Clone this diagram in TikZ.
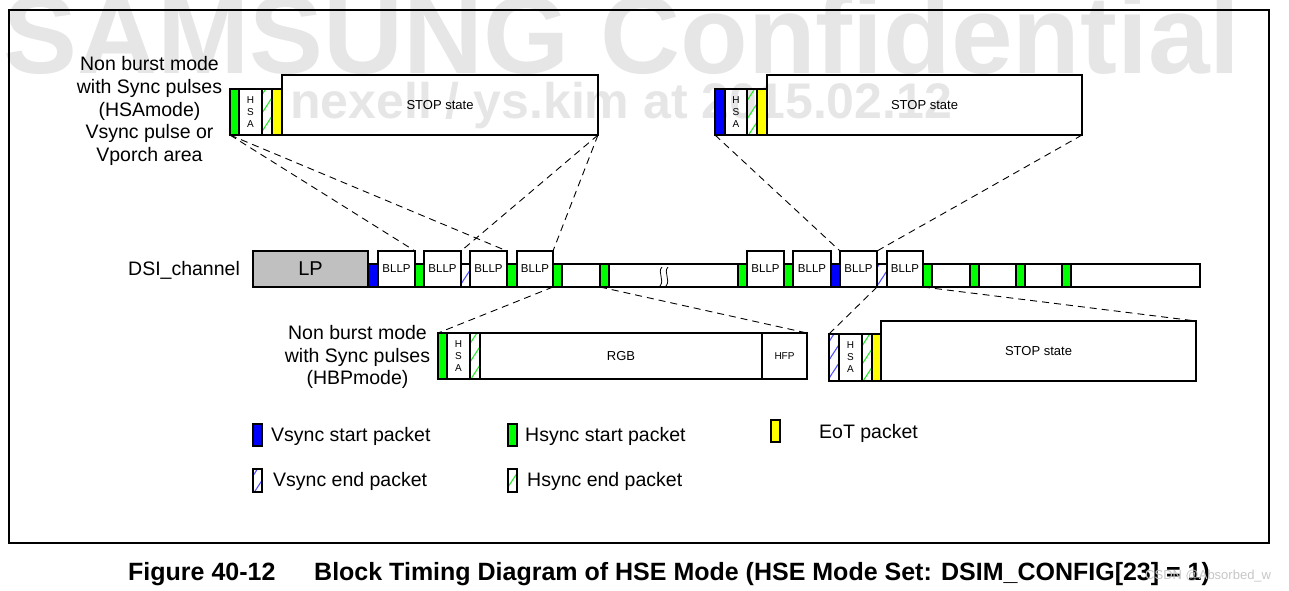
\documentclass[tikz,border=0pt]{standalone}
\usepackage{fontspec}
\setmainfont{Liberation Sans}
\usepackage{graphicx}
\usetikzlibrary{patterns.meta}
\definecolor{pg}{RGB}{0,255,0}
\definecolor{pb}{RGB}{0,0,255}
\definecolor{py}{RGB}{255,255,0}
\definecolor{lpg}{RGB}{192,192,192}
\definecolor{wm}{RGB}{230,230,230}
\definecolor{hg}{RGB}{40,235,40}
\definecolor{hb}{RGB}{80,80,255}
\tikzset{
 blk/.style={draw=black, line width=1.2pt, inner sep=0pt, outer sep=0pt, anchor=north west},
 gs/.style={blk, fill=pg},
 vs/.style={blk, fill=pb},
 eot/.style={blk, fill=py},
 gh/.style={blk, pattern={Lines[angle=57,distance=10pt,line width=1.1pt]}, pattern color=hg},
 vh/.style={blk, pattern={Lines[angle=57,distance=10pt,line width=1.1pt]}, pattern color=hb},
 lpbox/.style={blk, fill=lpg, font=\fontsize{20}{22}\selectfont},
 bllp/.style={blk, font=\fontsize{11.5}{13}\selectfont},
 hsa/.style={blk, align=center, font=\fontsize{10}{12}\selectfont},
 stopbox/.style={blk, font=\fontsize{13}{15}\selectfont},
 lbl/.style={font=\fontsize{19.5}{22.8}\selectfont, align=center, inner sep=0pt},
 leg/.style={font=\fontsize{19.5}{22.8}\selectfont, inner sep=0pt, anchor=base west},
 conn/.style={line width=0.9pt, dash pattern=on 7pt off 5pt},
}
\newcommand\bx[7]{\pgfmathsetmacro\bxw{#4-#2}\pgfmathsetmacro\bxh{#5-#3}%
 \node[#6,minimum width=\bxw pt,minimum height=\bxh pt] (#1) at (#2,#3) {#7};}
\begin{document}
\begin{tikzpicture}[x=1pt,y=-1pt]
\useasboundingbox (0,0) rectangle (1289,590);
% watermarks
\begin{scope}
\clip (0,0) rectangle (1289,590);
\node[anchor=base west, inner sep=0pt, text=wm] (wm1) at (3,73) {\resizebox{1237pt}{!}{\bfseries SAMSUNG Confidential}};
\node[anchor=base west, inner sep=0pt, text=wm] (wm2) at (290,118) {\resizebox{662pt}{!}{\bfseries nexell / ys.kim at 2015.02.12}};
\end{scope}
% frame
\draw[line width=1.5pt] (9,10) rectangle (1269,543);
% labels
\node[lbl] (lab1) at (149.5,111) {Non burst mode\\with Sync pulses\\(HSAmode)\\Vsync pulse or\\Vporch area};
\node[lbl] (lab2) at (357.5,357) {Non burst mode\\with Sync pulses\\(HBPmode)};
\node[leg] (lab3) at (128,275) {DSI\_channel};
% top-left group
\bx{tlg}{230}{89}{239}{135}{gs}{}
\bx{tlhsa}{239}{89}{262}{135}{hsa}{H\\S\\A}
\bx{tlh}{262}{89}{272}{135}{gh}{}
\bx{tle}{272}{89}{282}{135}{eot}{}
\bx{tlstop}{282}{75}{598}{135}{stopbox}{STOP state}
% top-right group
\bx{trv}{715}{89}{725}{135}{vs}{}
\bx{trhsa}{725}{89}{747}{135}{hsa}{H\\S\\A}
\bx{trh}{747}{89}{757}{135}{gh}{}
\bx{tre}{757}{89}{767}{135}{eot}{}
\bx{trstop}{767}{75}{1082}{135}{stopbox}{STOP state}
% channel
\bx{lp}{253}{251}{368}{287}{lpbox}{LP}
\bx{cv1}{368}{264}{378}{287}{vs}{}
\bx{cb1}{378}{251}{415}{287}{bllp}{BLLP}
\bx{cg1}{415}{264}{424}{287}{gs}{}
\bx{cb2}{424}{251}{461}{287}{bllp}{BLLP}
\bx{cvh1}{461}{264}{470}{287}{vh}{}
\bx{cb3}{470}{251}{507}{287}{bllp}{BLLP}
\bx{cg2}{507}{264}{517}{287}{gs}{}
\bx{cb4}{517}{251}{553}{287}{bllp}{BLLP}
\bx{cg3}{553}{264}{562}{287}{gs}{}
\bx{cw1}{562}{264}{600}{287}{blk}{}
\bx{cg4}{600}{264}{609}{287}{gs}{}
\bx{cw2}{609}{264}{738}{287}{blk}{}
\bx{cg5}{738}{264}{747}{287}{gs}{}
\bx{cb5}{747}{251}{784}{287}{bllp}{BLLP}
\bx{cg6}{784}{264}{793}{287}{gs}{}
\bx{cb6}{793}{251}{831}{287}{bllp}{BLLP}
\bx{cv2}{831}{264}{840}{287}{vs}{}
\bx{cb7}{840}{251}{877}{287}{bllp}{BLLP}
\bx{cvh2}{877}{264}{887}{287}{vh}{}
\bx{cb8}{887}{251}{923}{287}{bllp}{BLLP}
\bx{cg7}{923}{264}{932}{287}{gs}{}
\bx{cw3}{932}{264}{970}{287}{blk}{}
\bx{cg8}{970}{264}{979}{287}{gs}{}
\bx{cw4}{979}{264}{1016}{287}{blk}{}
\bx{cg9}{1016}{264}{1025}{287}{gs}{}
\bx{cw5}{1025}{264}{1062}{287}{blk}{}
\bx{cg10}{1062}{264}{1071}{287}{gs}{}
\bx{cw6}{1071}{264}{1200}{287}{blk}{}
% break mark
\draw[line width=0.8pt] (662,267) .. controls (657,272) and (665,280) .. (660,286);
\draw[line width=0.8pt] (668,267) .. controls (663,272) and (671,280) .. (666,286);
% bottom-left group
\bx{blg}{438}{333}{447}{379}{gs}{}
\bx{blhsa}{447}{333}{470}{379}{hsa}{H\\S\\A}
\bx{blh}{470}{333}{480}{379}{gh}{}
\bx{blrgb}{480}{333}{762}{379}{stopbox}{RGB}
\bx{blhfp}{762}{333}{807}{379}{hsa}{HFP}
% bottom-right group
\bx{brvh}{829}{334}{839}{381}{vh}{}
\bx{brhsa}{839}{334}{862}{381}{hsa}{H\\S\\A}
\bx{brh}{862}{334}{872}{381}{gh}{}
\bx{bre}{872}{334}{881}{381}{eot}{}
\bx{brstop}{881}{321}{1196}{381}{stopbox}{STOP state}
% dashed connectors
\draw[conn] (tlg.south west) -- (cb1.north east);
\draw[conn] (tlg.south west) -- (cb3.north east);
\draw[conn] (tlstop.south east) -- (cb2.north east);
\draw[conn] (tlstop.south east) -- (cb4.north east);
\draw[conn] (trv.south west) -- (cb7.north west);
\draw[conn] (trstop.south east) -- (cb7.north east);
\draw[conn] (cg3.south west) -- (blg.north west);
\draw[conn] (cg4.south west) -- (blhfp.north east);
\draw[conn] (cb7.south east) -- (brvh.north west);
\draw[conn] (cg7.south west) -- (brstop.north east);
% legend
\bx{lvs}{253}{424}{262}{446}{vs}{}
\node[leg] (tvs) at (271,441) {Vsync start packet};
\bx{lve}{253}{469}{262}{492}{vh}{}
\node[leg] (tve) at (273,486) {Vsync end packet};
\bx{lhs}{508}{424}{517}{446}{gs}{}
\node[leg] (ths) at (525,441) {Hsync start packet};
\bx{lhe}{508}{469}{517}{492}{gh}{}
\node[leg] (the) at (527,486) {Hsync end packet};
\bx{leot}{771}{420}{780}{442}{eot}{}
\node[leg] (teot) at (819,438) {EoT packet};
% caption
\node[anchor=base west, inner sep=0pt, font=\bfseries\fontsize{25}{29}\selectfont] (cap1) at (128,580) {Figure 40-12};
\node[anchor=base west, inner sep=0pt, font=\bfseries\fontsize{25}{29}\selectfont] (cap2) at (314,580) {Block Timing Diagram of HSE Mode (HSE Mode Set: DSIM\_CONFIG[23] = 1)};
\node[anchor=base west, inner sep=0pt, text=gray!45, font=\fontsize{13}{15}\selectfont] (csdn) at (1145,579) {CSDN @Absorbed\_w};
\end{tikzpicture}
\end{document}
